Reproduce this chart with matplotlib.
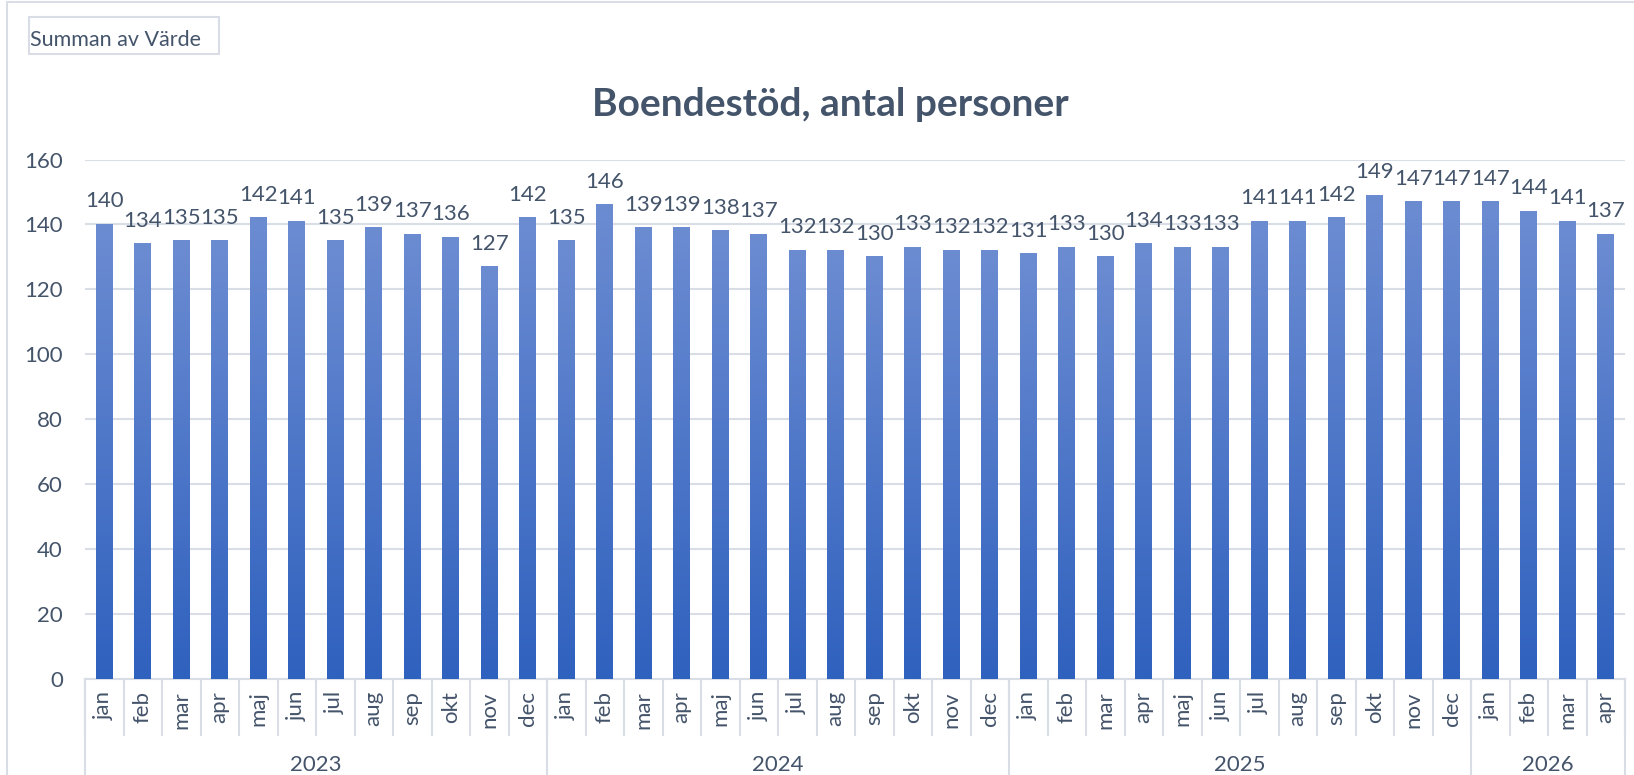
import numpy as np
import matplotlib
matplotlib.use("Agg")
import matplotlib.pyplot as plt
from matplotlib.transforms import blended_transform_factory
from matplotlib.patches import Rectangle

# Data: monthly values per year
YEARS = ["2023", "2024", "2025", "2026"]
MONTHS = ["jan", "feb", "mar", "apr", "maj", "jun",
          "jul", "aug", "sep", "okt", "nov", "dec"]
MONTHS_PER_YEAR = [12, 12, 12, 4]

values_2023 = [140, 134, 135, 135, 142, 141, 135, 139, 137, 136, 127, 142]
values_2024 = [135, 146, 139, 139, 138, 137, 132, 132, 130, 133, 132, 132]
values_2025 = [131, 133, 130, 134, 133, 133, 141, 141, 142, 149, 147, 147]
values_2026 = [147, 144, 141, 137]

TEXT = "#44546a"
GRID = "#d9dde6"
TOP = np.array([0x6c, 0x8c, 0xd2]) / 255
BOTTOM = np.array([0x2f, 0x61, 0xbe]) / 255
FS = 16

plt.rcParams['font.family'] = ['Lato', 'DejaVu Sans']

values = values_2023 + values_2024 + values_2025 + values_2026
labels = []
for n in MONTHS_PER_YEAR:
    labels += MONTHS[:n]
x = np.arange(len(values))

W, H = 1634, 775
fig = plt.figure(figsize=(W / 100, H / 100), dpi=100)
left, right, bottom, top = 85, 1625, 679, 159.5
ax = fig.add_axes([left / W, 1 - bottom / H, (right - left) / W, (bottom - top) / H])

# gradient bars, light at top, dark at bottom
grad = np.linspace(0, 1, 256)[:, None]
img = TOP[None, None, :] * (1 - grad[..., None]) + BOTTOM[None, None, :] * grad[..., None]
bw = 0.43
for xi, v in zip(x, values):
    ax.imshow(img, extent=(xi - bw / 2, xi + bw / 2, 0, v), aspect='auto', zorder=3,
              interpolation='bilinear')
    ax.text(xi, v + 4, str(v), ha='center', va='bottom', fontsize=FS, color=TEXT, zorder=4)
ax.set_xlim(-0.5, len(values) - 0.5)
ax.set_ylim(0, 160)

ax.set_yticks(range(0, 161, 20))
ax.yaxis.grid(True, color=GRID, linewidth=1.5)
ax.set_axisbelow(True)
ax.tick_params(axis='y', length=0, labelsize=FS, labelcolor=TEXT, pad=16)
ax.set_xticks([])
for s in ax.spines.values():
    s.set_visible(False)

# multi-level category axis
tr = blended_transform_factory(ax.transData, ax.transAxes)
ph = bottom - top
y_month = -56 / ph
y_year = -96 / ph
ax.plot([-0.5, len(values) - 0.5], [0, 0], transform=tr, color=GRID, lw=1.5, clip_on=False)
for xi, lab in zip(x, labels):
    ax.text(xi, -12 / ph, lab, rotation=90, ha='center', va='top', fontsize=FS,
            color=TEXT, transform=tr)
for b in range(len(values) + 1):
    ax.plot([b - 0.5, b - 0.5], [0, y_month], transform=tr, color=GRID, lw=1.5, clip_on=False)
start = 0
for yr, n in zip(YEARS, MONTHS_PER_YEAR):
    ax.plot([start - 0.5, start - 0.5], [0, y_year], transform=tr, color=GRID, lw=1.5, clip_on=False)
    ax.text(start + n / 2 - 0.5, -86 / ph, yr, ha='center', va='center', fontsize=FS,
            color=TEXT, transform=tr)
    start += n
ax.plot([start - 0.5, start - 0.5], [0, y_year], transform=tr, color=GRID, lw=1.5, clip_on=False)

# title and pivot field button
fig.text(830 / W, 1 - 104 / H, "Boendestöd, antal personer", ha='center', va='center',
         fontsize=28, fontweight='bold', color=TEXT)
fig.patches.append(Rectangle((29 / W, 1 - 54 / H), 190 / W, 37 / H, transform=fig.transFigure,
                             fill=False, edgecolor=GRID, lw=1.5))
fig.text(30 / W, 1 - 40 / H, "Summan av Värde", ha='left', va='center', fontsize=15.5,
         color=TEXT)

# chart area border
fig.patches.append(Rectangle((7 / W, -0.01), 1.1, 1 - 2 / H + 0.01, transform=fig.transFigure,
                             fill=False, edgecolor=GRID, lw=1.5))

fig.savefig("out.png", dpi=100)
